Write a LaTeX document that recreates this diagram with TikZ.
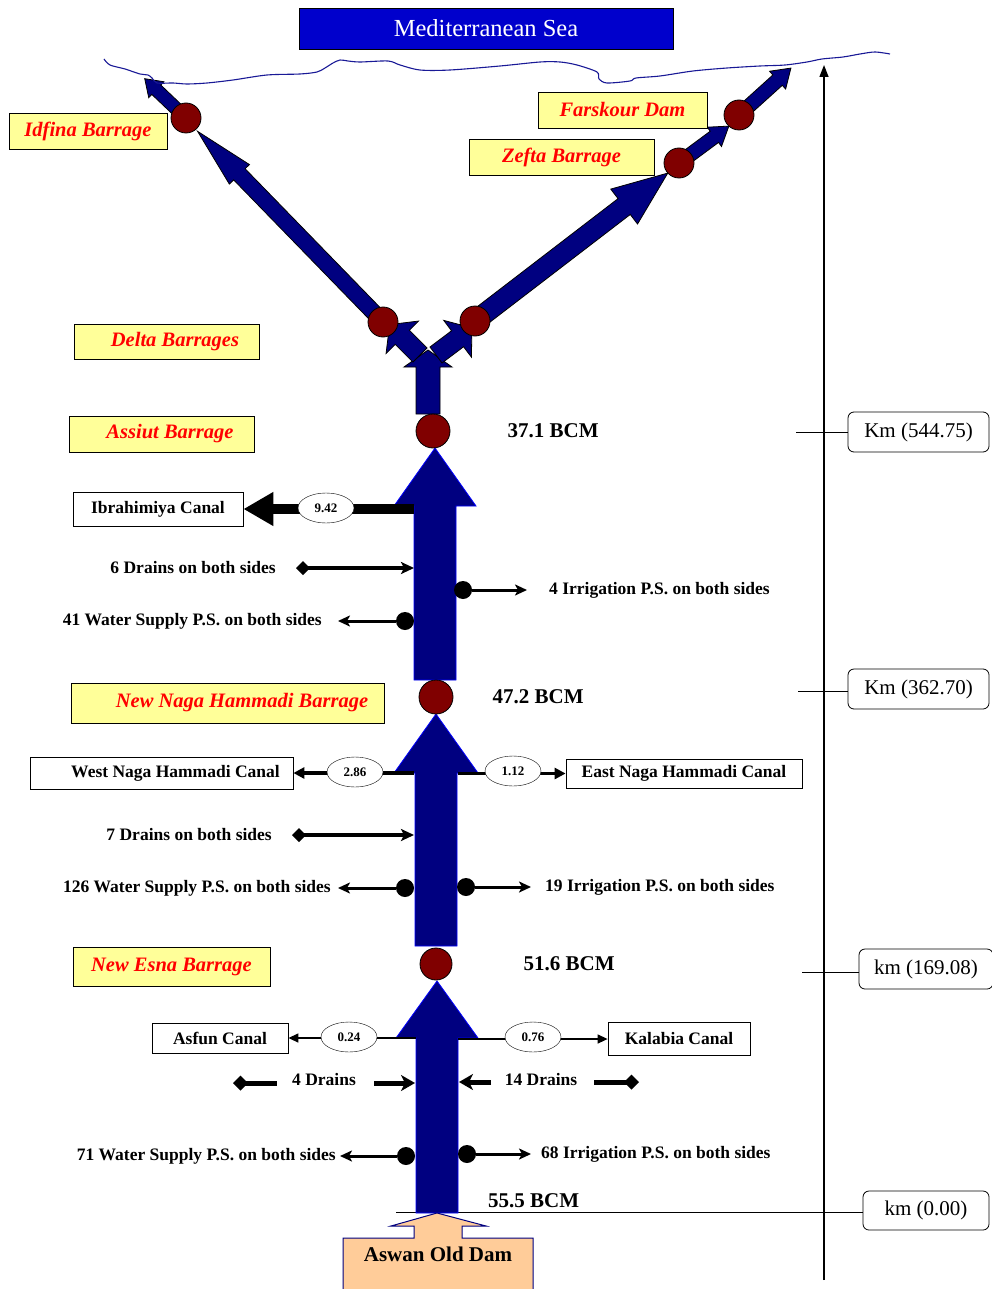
\documentclass[tikz,border=0pt]{standalone}
\usepackage{fontspec}
\setmainfont{Liberation Serif}
\usetikzlibrary{positioning,arrows.meta,shapes.geometric}

\definecolor{flownavy}{RGB}{0,0,128}
\definecolor{seablue}{RGB}{0,0,204}
\definecolor{damred}{RGB}{128,0,0}
\definecolor{notepale}{RGB}{255,255,153}
\definecolor{aswanpeach}{RGB}{255,204,153}
\definecolor{coastblue}{RGB}{25,25,150}

% block arrow: [style]{(start)}{angle}{length}{half shaft}{half head}{head length}
\newcommand{\flowarrow}[7][]{%
  \begin{scope}[shift={#2},rotate=#3]
    \filldraw[flow,#1] (0,-#5) -- ({#4-#7},-#5) -- ({#4-#7},-#6) -- (#4,0)
      -- ({#4-#7},#6) -- ({#4-#7},#5) -- (0,#5) -- cycle;
  \end{scope}}

\begin{document}
\begin{tikzpicture}
  [x=1pt,y=-1pt,node distance=20pt,
   flow/.style={fill=flownavy,draw=blue,line width=0.8pt},
   barrage/.style={circle,draw,fill=damred,minimum size=34pt,inner sep=0pt,line width=0.8pt},
   note/.style={draw,fill=notepale,text=red,inner sep=0pt,line width=0.8pt,
     font=\bfseries\itshape\fontsize{20.5}{24}\selectfont},
   canal/.style={draw,fill=white,inner sep=0pt,line width=0.8pt,font=\bfseries\fontsize{17.5}{20}\selectfont},
   share/.style={ellipse,draw,fill=white,minimum width=56pt,minimum height=30pt,inner sep=0pt,
     font=\bfseries\fontsize{13}{15}\selectfont},
   txt/.style={inner sep=0pt,font=\bfseries\fontsize{17.5}{20}\selectfont},
   bcm/.style={inner sep=0pt,font=\bfseries\fontsize{21}{24}\selectfont},
   km/.style={draw,rounded corners=6pt,minimum height=40pt,inner sep=0pt,line width=0.8pt,
     font=\fontsize{21}{24}\selectfont},
   dot/.style={circle,fill=black,minimum size=18pt,inner sep=0pt},
   outlet/.style={line width=3pt,-{Stealth[length=12pt,width=11pt,inset=3pt]}},
   drain/.style={line width=4pt,{Diamond[length=14pt,width=14pt]}-{Stealth[length=13pt,width=12pt,inset=3pt]}},
   piece/.style={line width=5pt},
   branch/.style={line width=3.5pt,-{Triangle[length=11pt,width=11pt]}},
   thinbranch/.style={line width=1.4pt,-{Triangle[length=10pt,width=9pt]}}]
  \useasboundingbox (0,0) rectangle (992,1289);

  % sea and coast
  \node[draw,fill=seablue,text=white,minimum width=374pt,minimum height=41pt,inner sep=0pt,
    font=\fontsize{24.5}{28}\selectfont] (sea) at (486,28.5) {Mediterranean Sea};

  % km axis
  \coordinate (axisfoot) at (824,1280);
  \coordinate (axishead) at (824,65);
  \draw[line width=1.4pt,-{Triangle[length=12pt,width=9pt]}] (axisfoot) -- (axishead);
  \node[km,minimum width=141pt] (km1) at (918.5,432) {Km (544.75)};
  \node[km,minimum width=141pt] (km2) at (918.5,689) {Km (362.70)};
  \node[km,minimum width=134pt] (km3) at (926,969) {km (169.08)};
  \node[km,minimum width=126pt,minimum height=39pt] (km4) at (926,1210.5) {km (0.00)};
  \coordinate (t1) at (796,432);
  \coordinate (t2) at (798,691);
  \coordinate (t3) at (802,972);
  \coordinate (t4) at (396,1212);
  \draw[line width=1pt] (t1) -- (t1 -| km1.west) (t2) -- (t2 -| km2.west)
                        (t3) -- (t3 -| km3.west) (t4) -- (t4 -| km4.west);

  % barrage sites
  \coordinate (idfinaC) at (186,118);
  \coordinate (zeftaC) at (679,163);
  \coordinate (farskourC) at (739,115);
  \coordinate (deltawC) at (383,322);
  \coordinate (deltaeC) at (475,321);
  \coordinate (assiutC) at (433,431);
  \coordinate (nagaC) at (436,697);
  \coordinate (esnaC) at (436,964);
  \coordinate (aswantip) at (437,1213);

  % the river
  \flowarrow{(aswantip)}{90}{232}{21}{41}{57}
  \flowarrow{(436,946)}{90}{232}{21}{42}{59}
  \flowarrow{(435,680)}{90}{232}{21}{41}{58}
  \flowarrow[draw=black]{(428,414)}{90}{64}{12}{24}{17}
  \flowarrow[draw=black]{(420,355)}{135}{43}{10}{23}{18}
  \flowarrow[draw=black]{(436,355)}{37}{45}{10}{23}{18}
  \flowarrow[draw=black]{(deltawC)}{134.2}{266}{8}{14}{60}
  \flowarrow[draw=black]{(deltaeC)}{37.5}{243}{10}{22}{55}
  \flowarrow[draw=black]{(idfinaC)}{136.4}{57}{6.5}{11}{16}
  \flowarrow[draw=black]{(zeftaC)}{36.5}{62}{7}{12}{18}
  \flowarrow[draw=black]{(farskourC)}{42.1}{70}{7}{12}{18}

  \draw[coastblue,line width=1.1pt] plot[smooth,tension=0.5] coordinates {
    (104,59) (110,65) (125,69) (140,74) (148,75) (152,78) (157,83) (173,83) (187,84)
    (207,83) (233,80) (267,75) (300,74) (317,72) (325,68) (333,63) (340,60) (348,61)
    (360,62) (388,61) (400,65) (420,70) (450,70) (500,66) (540,62) (560,62) (577,65)
    (597,72) (599,79) (607,83) (630,81) (636,78) (660,76) (693,71) (727,68) (760,66)
    (785,65) (807,62) (822,59) (843,57) (860,54) (875,52) (890,54)};

  % Assiut reach
  \node[canal,minimum width=170pt,minimum height=34pt] (ibrahimiya) at (158,509) {Ibrahimiya Canal};
  \coordinate (ibrA) at (414,509);
  \draw[line width=10pt,-{Triangle[length=30pt,width=32pt]}] (ibrA) -- (ibrahimiya.east);
  \node[share] (s942) at (326,508) {9.42};
  \coordinate (dr6a) at (296,568);
  \coordinate (dr6b) at (414,568);
  \draw[drain] (dr6a) -- (dr6b);
  \node[txt,left=20pt of dr6a] (dr6t) {6 Drains on both sides};
  \node[dot] (ir4) at (463,590) {};
  \coordinate (ir4e) at (527,590);
  \draw[outlet] (ir4) -- (ir4e);
  \node[txt,right=22pt of ir4e] (ir4t) {4 Irrigation P.S. on both sides};
  \node[dot] (ws41) at (405,621) {};
  \coordinate (ws41e) at (338,621);
  \draw[outlet] (ws41) -- (ws41e);
  \node[txt,left=16pt of ws41e] (ws41t) {41 Water Supply P.S. on both sides};

  % Naga Hammadi reach
  \node[canal,minimum width=263pt,minimum height=32pt] (westnh) at (161.5,773) {\hspace*{28pt}West Naga Hammadi Canal};
  \coordinate (westA) at (414,773);
  \draw[branch] (westA) -- (westnh.east);
  \node[share] (s286) at (355,772) {2.86};
  \node[canal,minimum width=236pt,minimum height=29pt] (eastnh) at (684,773.5) {East Naga Hammadi Canal};
  \coordinate (eastA) at (458,773.5);
  \draw[branch] (eastA) -- (eastnh.west);
  \node[share] (s112) at (513,771) {1.12};
  \coordinate (dr7a) at (292,835);
  \coordinate (dr7b) at (414,835);
  \draw[drain] (dr7a) -- (dr7b);
  \node[txt,left=20pt of dr7a] (dr7t) {7 Drains on both sides};
  \node[dot] (ws126) at (405,888) {};
  \coordinate (ws126e) at (338,888);
  \draw[outlet] (ws126) -- (ws126e);
  \node[txt,left=7pt of ws126e] (ws126t) {126 Water Supply P.S. on both sides};
  \node[dot] (ir19) at (466,887) {};
  \coordinate (ir19e) at (531,887);
  \draw[outlet] (ir19) -- (ir19e);
  \node[txt,right=14pt of ir19e] (ir19t) {19 Irrigation P.S. on both sides};

  % Esna reach
  \node[canal,minimum width=136pt,minimum height=30pt] (asfun) at (220,1038) {Asfun Canal};
  \coordinate (asfunA) at (416,1038);
  \draw[thinbranch] (asfunA) -- (asfun.east);
  \node[share] (s024) at (349,1037) {0.24};
  \node[canal,minimum width=142pt,minimum height=33pt] (kalabia) at (679,1039) {Kalabia Canal};
  \coordinate (kalabiaA) at (458,1039);
  \draw[thinbranch] (kalabiaA) -- (kalabia.west);
  \node[share] (s076) at (533,1037) {0.76};
  \node[txt] (dr4) at (324,1080) {4 Drains};
  \coordinate (dr4w) at (233,1083);
  \coordinate (dr4wa) at (277,1083);
  \coordinate (dr4ea) at (374,1083);
  \coordinate (dr4e) at (415,1083);
  \draw[piece,{Diamond[length=15pt,width=15pt]}-] (dr4w) -- (dr4wa);
  \draw[piece,-{Stealth[length=14pt,width=16pt,inset=4pt]}] (dr4ea) -- (dr4e);
  \node[txt] (dr14) at (541,1080) {14 Drains};
  \coordinate (dr14wa) at (491,1082);
  \coordinate (dr14w) at (459,1082);
  \coordinate (dr14ea) at (594,1082);
  \coordinate (dr14e) at (639,1082);
  \draw[piece,-{Stealth[length=14pt,width=16pt,inset=4pt]}] (dr14wa) -- (dr14w);
  \draw[piece,-{Diamond[length=15pt,width=15pt]}] (dr14ea) -- (dr14e);
  \node[dot] (ws71) at (406,1156) {};
  \coordinate (ws71e) at (340,1156);
  \draw[outlet] (ws71) -- (ws71e);
  \node[txt,left=4pt of ws71e] (ws71t) {71 Water Supply P.S. on both sides};
  \node[dot] (ir68) at (467,1154) {};
  \coordinate (ir68e) at (531,1154);
  \draw[outlet] (ir68) -- (ir68e);
  \node[txt,right=10pt of ir68e] (ir68t) {68 Irrigation P.S. on both sides};

  % Aswan
  \filldraw[fill=aswanpeach,draw=flownavy,line width=1pt] (343,1292) -- (343,1238) -- (414,1238)
    -- (414,1226) -- (391,1226) -- (aswantip) -- (486,1226) -- (462,1226) -- (462,1238)
    -- (533,1238) -- (533,1292);
  \node[bcm] (aswan) at (438,1254) {Aswan Old Dam};

  % barrages
  \node[barrage,minimum size=30pt] (idfina) at (idfinaC) {};
  \node[barrage,minimum size=30pt] (zefta) at (zeftaC) {};
  \node[barrage,minimum size=30pt] (farskour) at (farskourC) {};
  \node[barrage,minimum size=30pt] (deltaw) at (deltawC) {};
  \node[barrage,minimum size=30pt] (deltae) at (deltaeC) {};
  \node[barrage] (assiut) at (assiutC) {};
  \node[barrage] (naga) at (nagaC) {};
  \node[barrage,minimum size=32pt] (esna) at (esnaC) {};

  \node[note,minimum width=158pt,minimum height=36pt] (lblidfina) at (88,131) {Idfina Barrage};
  \node[note,minimum width=169pt,minimum height=36pt] (lblfarskour) at (622.5,110) {Farskour Dam};
  \node[note,minimum width=185pt,minimum height=36pt] (lblzefta) at (561.5,157) {Zefta Barrage};
  \node[note,minimum width=185pt,minimum height=35pt] (lbldelta) at (166.5,341.5) {\hspace*{17pt}Delta Barrages};
  \node[note,minimum width=185pt,minimum height=36pt] (lblassiut) at (161.5,434) {\hspace*{17pt}Assiut Barrage};
  \node[note,minimum width=313pt,minimum height=40pt] (lblnaga) at (227.5,703) {\hspace*{29pt}New Naga Hammadi Barrage};
  \node[note,minimum width=197pt,minimum height=39pt] (lblesna) at (171.5,966.5) {New Esna Barrage};

  \node[bcm,right=57pt of assiut] (bcm371) {37.1 BCM};
  \node[bcm,right=39pt of naga] (bcm472) {47.2 BCM};
  \node[bcm,right=71pt of esna] (bcm516) {51.6 BCM};
  \node[bcm,anchor=west] (bcm555) at (488,1201) {55.5 BCM};
\end{tikzpicture}
\end{document}
